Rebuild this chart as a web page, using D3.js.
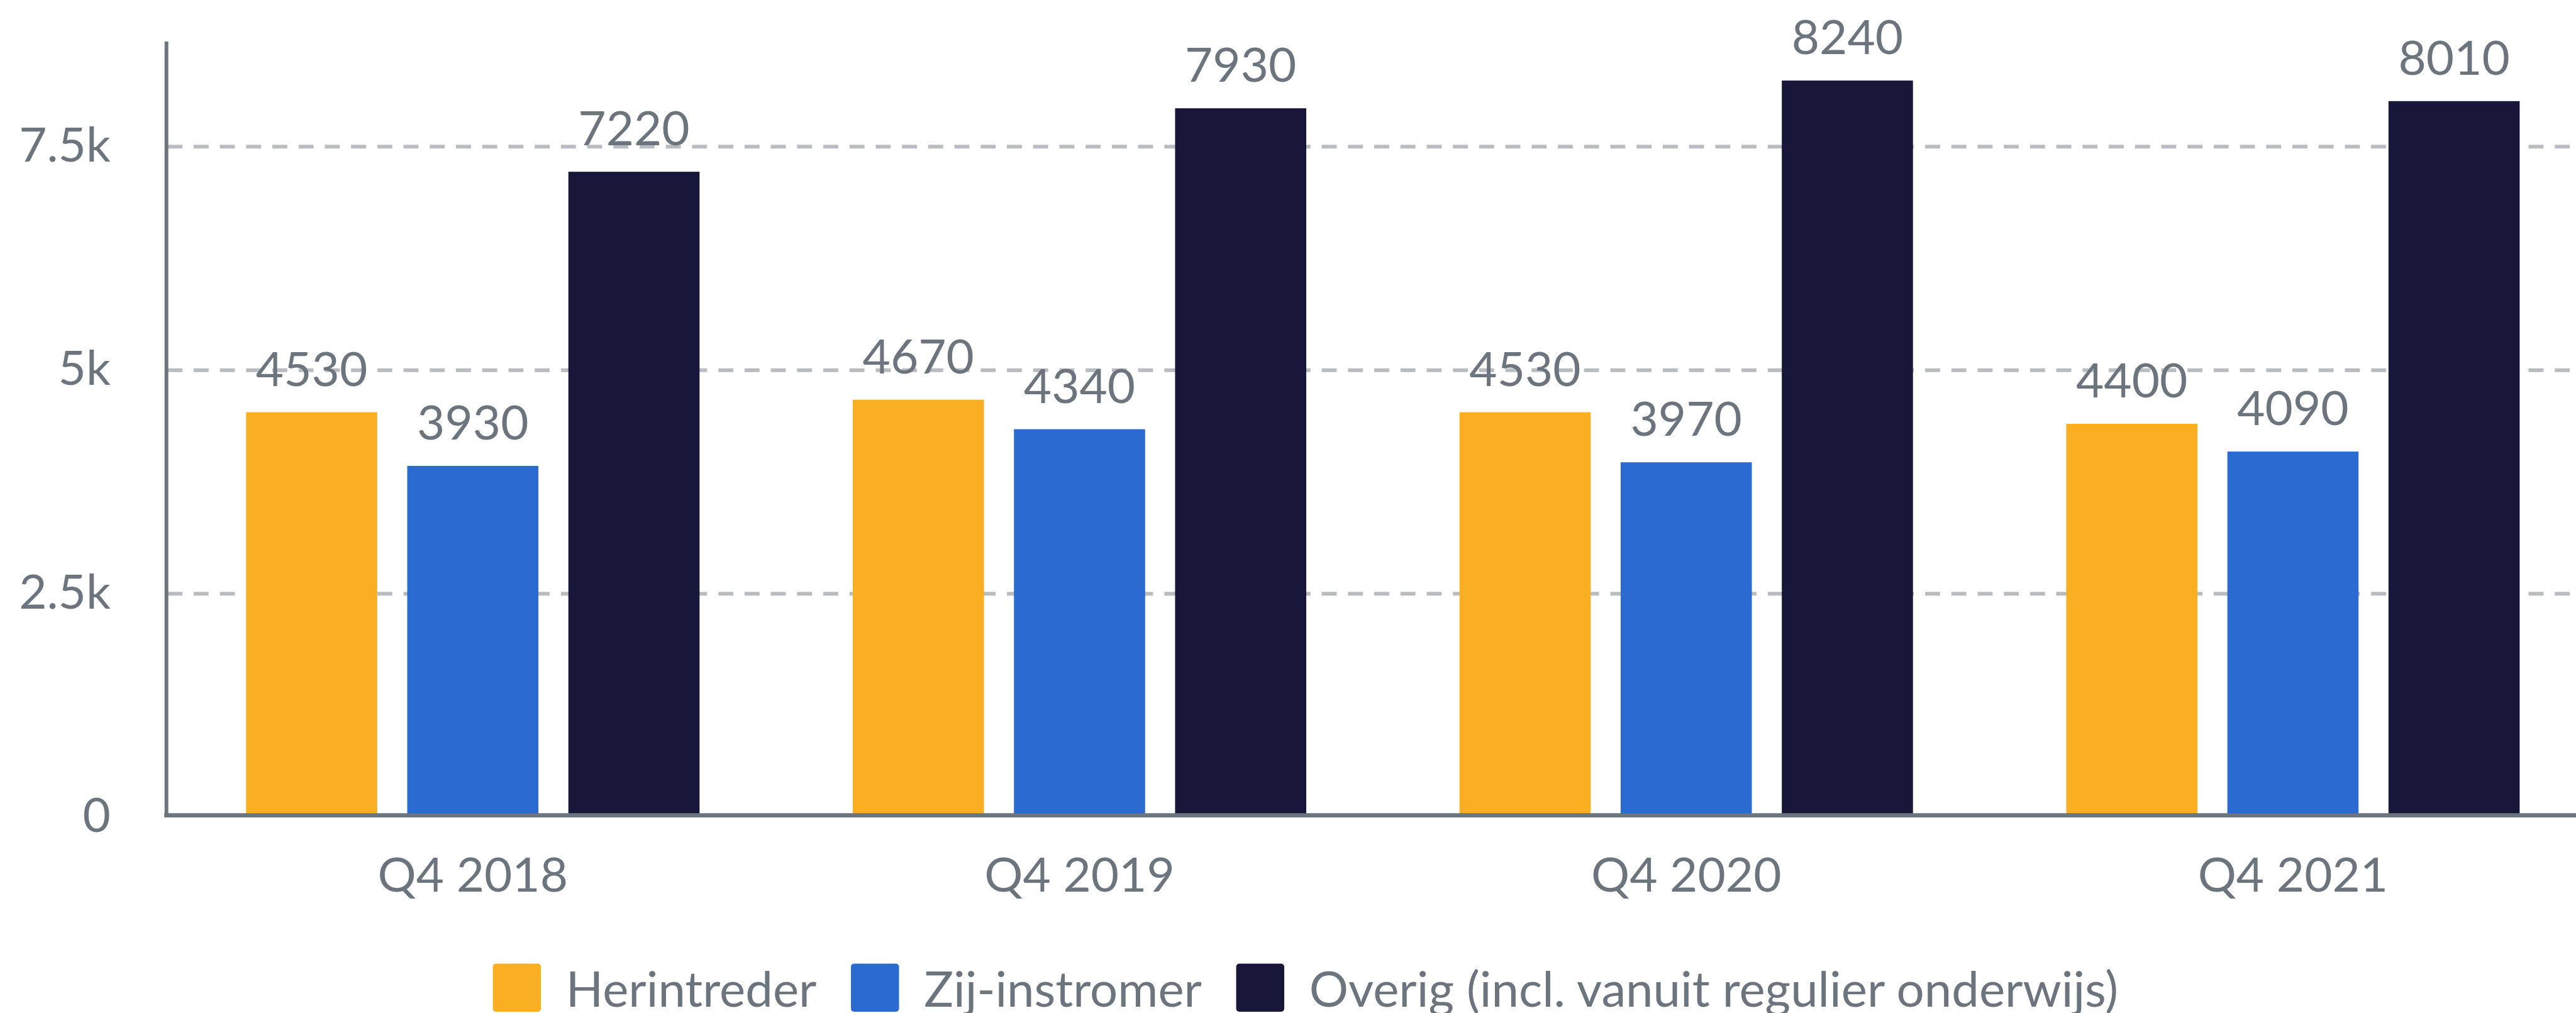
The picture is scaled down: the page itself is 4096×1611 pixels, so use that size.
<!DOCTYPE html>
<html>
<head>
<meta charset="utf-8">
<script src="https://cdn.jsdelivr.net/npm/d3@7"></script>
<style>
    html, body { margin: 0; padding: 0; background: #fff; overflow: hidden; }
    svg { display: block; }
</style>
</head>
<body>
<div id="chartdiv"></div>
<script>
// data
const quarters = ["Q4 2018", "Q4 2019", "Q4 2020", "Q4 2021"];
const seriesNames = ["Herintreder", "Zij-instromer", "Overig (incl. vanuit regulier onderwijs)"];
const herintreder = [4530, 4670, 4530, 4400];
const zijInstromer = [3930, 4340, 3970, 4090];
const overig = [7220, 7930, 8240, 8010];
const yTicks = [0, 2500, 5000, 7500];
const yMax = 8680;
const seriesColors = ["#f9af21", "#2b6ad1", "#18173a"];

// draw
{
    // everything is laid out in the reference's 4124x1622 frame, the viewBox scales it to the window
    let W = 4124,
        H = 1622,
        axis_x = 266,
        zero_y = 1308.5,
        axisline_y = 1305.5,
        top_y = 66,
        font = "Lato, 'Open Sans', sans-serif",
        fsize = 77,
        gray = "#6c757d";

    let seriesValues = [herintreder, zijInstromer, overig];
    let data = quarters.map(function(q, i) {
        return {
            quarter: q,
            values: seriesNames.map(function(s, j) {
                return { key: s, value: seriesValues[j][i], idx: j };
            })
        };
    });

    let svg = d3.select("#chartdiv")
        .append("svg")
        .attr("width", 4096)
        .attr("height", 1611)
        .attr("viewBox", "0 0 " + W + " " + H)
        .attr("font-family", font);

    let y = d3.scaleLinear()
        .domain([0, yMax])
        .range([zero_y, top_y]);
    let x0 = d3.scaleBand()
        .domain(quarters)
        .range([271.3, 4156.5])
        .paddingInner(0.2526)
        .paddingOuter(0.1263);
    let x1 = d3.scaleBand()
        .domain(seriesNames)
        .range([0, x0.bandwidth()])
        .paddingInner(0.186);

    // dashed gridlines
    svg.append("g")
        .selectAll("line")
        .data(yTicks.filter(function(d) { return d > 0; }))
        .enter()
        .append("line")
        .attr("x1", axis_x + 2)
        .attr("x2", W)
        .attr("y1", function(d) { return y(d); })
        .attr("y2", function(d) { return y(d); })
        .attr("stroke", "#b9bcc1")
        .attr("stroke-width", 6)
        .attr("stroke-dasharray", "24,18");

    // bars
    let groups = svg.append("g")
        .selectAll("g")
        .data(data)
        .enter()
        .append("g")
        .attr("transform", function(d) { return "translate(" + x0(d.quarter) + ",0)"; });
    groups.selectAll("rect")
        .data(function(d) { return d.values; })
        .enter()
        .append("rect")
        .attr("x", function(d) { return x1(d.key); })
        .attr("y", function(d) { return y(d.value); })
        .attr("width", x1.bandwidth())
        .attr("height", function(d) { return zero_y - y(d.value); })
        .attr("fill", function(d) { return seriesColors[d.idx]; });
    groups.selectAll("text")
        .data(function(d) { return d.values; })
        .enter()
        .append("text")
        .attr("x", function(d) { return x1(d.key) + x1.bandwidth() / 2; })
        .attr("y", function(d) { return y(d.value) - 42; })
        .attr("text-anchor", "middle")
        .attr("font-size", fsize)
        .attr("fill", gray)
        .text(function(d) { return d.value; });

    // y axis
    let yAxis = d3.axisLeft(y)
        .tickValues(yTicks)
        .tickFormat(d3.format("~s"))
        .tickSize(0)
        .tickPadding(89);
    let gy = svg.append("g")
        .attr("transform", "translate(" + axis_x + ",0)")
        .call(yAxis);
    gy.select(".domain")
        .attr("stroke", gray)
        .attr("stroke-width", 6);
    gy.selectAll("text")
        .attr("font-family", font)
        .attr("font-size", fsize)
        .attr("fill", gray)
        .attr("dy", "0.3em");

    // x axis
    let xAxis = d3.axisBottom(x0)
        .tickSize(0);
    let gx = svg.append("g")
        .attr("transform", "translate(0," + axisline_y + ")")
        .call(xAxis);
    gx.select(".domain").remove();
    gx.append("line")
        .attr("x1", axis_x - 3)
        .attr("x2", W)
        .attr("stroke", gray)
        .attr("stroke-width", 7);
    gx.selectAll(".tick text")
        .attr("font-family", font)
        .attr("font-size", fsize)
        .attr("fill", gray)
        .attr("y", 122.5)
        .attr("dy", 0);

    // legend
    {
        let sq = 77,
            text_off = 117,
            gap = 55,
            leg_y = 1543,
            leg_center = 2090;
        let legend = svg.append("g");
        let items = legend.selectAll("g")
            .data(seriesNames)
            .enter()
            .append("g");
        items.append("rect")
            .attr("width", sq)
            .attr("height", sq)
            .attr("y", leg_y)
            .attr("rx", 5)
            .attr("fill", function(d, i) { return seriesColors[i]; });
        items.append("text")
            .attr("x", text_off)
            .attr("y", leg_y + 69)
            .attr("font-size", 78.5)
            .attr("fill", gray)
            .text(function(d) { return d; });
        let cx = 0;
        items.each(function() {
            let g = d3.select(this);
            g.attr("transform", "translate(" + cx + ",0)");
            cx += text_off + g.select("text").node().getComputedTextLength() + gap;
        });
        let total = cx - gap;
        legend.attr("transform", "translate(" + (leg_center - total / 2) + ",0)");
    }
}
</script>
</body>
</html>
